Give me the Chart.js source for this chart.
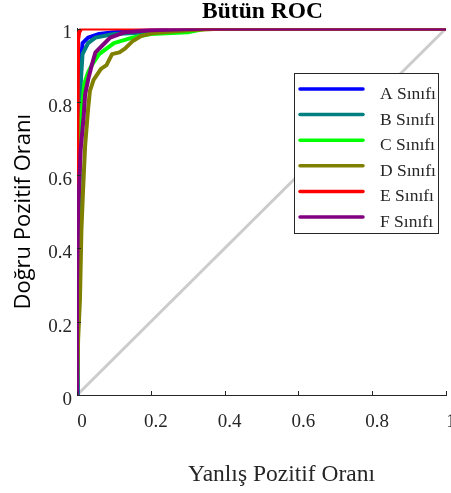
<!DOCTYPE html>
<html lang="tr">
<head>
    <meta charset="UTF-8">
    <title>Bütün ROC</title>
    <script src="https://cdn.jsdelivr.net/npm/chart.js"></script>
    <style>
        body {
            margin: 0;
            background-color: white;
        }
        .chart-container {
            position: relative;
            width: 451px;
            height: 493px;
        }
    </style>
</head>
<body>
    <div class="chart-container">
        <canvas id="rocChart" width="451" height="493"></canvas>
    </div>
    <script>
        // ROC eğrileri (yanlış pozitif oranı, doğru pozitif oranı)
        const classNames = ['A Sınıfı', 'B Sınıfı', 'C Sınıfı', 'D Sınıfı', 'E Sınıfı', 'F Sınıfı'];
        const classColors = ['#0000FF', '#008080', '#00FF00', '#808000', '#FF0000', '#800080'];

        const fprA = [0, 0.002, 0.005, 0.01, 0.015, 0.03, 0.06, 0.1, 0.2, 0.3, 1];
        const tprA = [0, 0.3, 0.6, 0.9, 0.96, 0.975, 0.985, 0.99, 0.995, 1, 1];

        const fprB = [0, 0.002, 0.005, 0.01, 0.015, 0.03, 0.05, 0.1, 0.2, 0.29, 0.31, 1];
        const tprB = [0, 0.3, 0.5, 0.85, 0.93, 0.96, 0.975, 0.985, 0.99, 0.995, 1, 1];

        const fprC = [0, 0.003, 0.006, 0.01, 0.02, 0.03, 0.04, 0.06, 0.08, 0.1, 0.15, 0.2, 0.3, 0.35, 1];
        const tprC = [0, 0.3, 0.55, 0.75, 0.85, 0.88, 0.9, 0.93, 0.945, 0.96, 0.975, 0.985, 0.99, 1, 1];

        const fprD = [0, 0.003, 0.008, 0.012, 0.016, 0.022, 0.03, 0.035, 0.045, 0.065, 0.08, 0.095, 0.115, 0.13, 0.15, 0.175, 0.21, 0.3, 0.4, 1];
        const tprD = [0, 0.15, 0.26, 0.45, 0.55, 0.68, 0.78, 0.83, 0.86, 0.89, 0.9, 0.93, 0.935, 0.945, 0.965, 0.98, 0.988, 0.995, 1, 1];

        const fprE = [0, 0, 0.003, 0.006, 0.012, 1];
        const tprE = [0, 0.55, 0.97, 0.99, 1, 1];

        const fprF = [0, 0, 0.003, 0.01, 0.018, 0.022, 0.03, 0.04, 0.05, 0.07, 0.09, 0.13, 0.2, 0.35, 1];
        const tprF = [0, 0.3, 0.5, 0.67, 0.76, 0.82, 0.86, 0.9, 0.935, 0.955, 0.975, 0.99, 0.995, 1, 1];

        const fprRandom = [0, 1];
        const tprRandom = [0, 1];

        const xTicks = [0, 0.2, 0.4, 0.6, 0.8, 1];
        const yTicks = [0, 0.2, 0.4, 0.6, 0.8, 1];

        const curves = [[fprA, tprA], [fprB, tprB], [fprC, tprC], [fprD, tprD], [fprE, tprE], [fprF, tprF]];

        function toPoints(xs, ys) {
            return xs.map((x, i) => ({ x: x, y: ys[i] }));
        }

        const axisColor = '#262626';
        const serif = "'Liberation Serif', 'Times New Roman', serif";

        // son sınıf en üstte çizilsin
        const datasets = curves.map((c, i) => ({
            label: classNames[i],
            data: toPoints(c[0], c[1]),
            borderColor: classColors[i],
            backgroundColor: classColors[i],
            borderWidth: 4,
            order: curves.length - 1 - i
        }));
        datasets.push({
            label: 'rastgele',
            data: toPoints(fprRandom, tprRandom),
            borderColor: '#CCCCCC',
            borderWidth: 3,
            order: 10
        });

        // başlık, içe dönük tikler, x ekseni başlığı ve lejant kutusu
        const rocDecor = {
            id: 'rocDecor',
            afterDraw(chart) {
                const ctx = chart.ctx;
                const xs = chart.scales.x;
                const ys = chart.scales.y;
                const area = chart.chartArea;
                const midX = (area.left + area.right) / 2;
                ctx.save();
                ctx.strokeStyle = axisColor;
                ctx.lineWidth = 1;
                ctx.beginPath();
                xTicks.forEach(v => {
                    const px = Math.round(xs.getPixelForValue(v)) + 0.5;
                    ctx.moveTo(px, area.bottom);
                    ctx.lineTo(px, area.bottom - 4);
                });
                yTicks.forEach(v => {
                    const py = Math.round(ys.getPixelForValue(v)) + 0.5;
                    ctx.moveTo(area.left, py);
                    ctx.lineTo(area.left + 4, py);
                });
                ctx.stroke();

                ctx.textAlign = 'center';
                ctx.textBaseline = 'alphabetic';
                ctx.fillStyle = '#000000';
                ctx.font = 'bold 23.5px ' + serif;
                ctx.fillText('Bütün ROC', midX + 1, 17.5);

                ctx.fillStyle = axisColor;
                ctx.font = '23.5px ' + serif;
                ctx.fillText('Yanlış Pozitif Oranı', midX + 20, 481);

                // lejant
                const box = { left: 294, top: 73, width: 144, height: 160 };
                ctx.fillStyle = 'white';
                ctx.fillRect(box.left, box.top, box.width, box.height);
                ctx.strokeStyle = axisColor;
                ctx.strokeRect(box.left + 0.5, box.top + 0.5, box.width, box.height);
                ctx.font = '17.5px ' + serif;
                ctx.textAlign = 'left';
                ctx.lineCap = 'round';
                classNames.forEach((name, i) => {
                    const y = 89 + i * 25.6;
                    ctx.strokeStyle = classColors[i];
                    ctx.lineWidth = 3.5;
                    ctx.beginPath();
                    ctx.moveTo(300, y);
                    ctx.lineTo(363, y);
                    ctx.stroke();
                    ctx.fillStyle = axisColor;
                    ctx.fillText(name, 380, y + 10);
                });
                ctx.restore();
            }
        };

        new Chart(document.getElementById('rocChart'), {
            type: 'scatter',
            data: { datasets: datasets },
            options: {
                responsive: false,
                animation: false,
                showLine: true,
                elements: {
                    point: { radius: 0 },
                    line: { tension: 0, borderJoinStyle: 'round', borderCapStyle: 'round' }
                },
                layout: { padding: { top: 28.5, right: 5, bottom: 0, left: 0 } },
                plugins: {
                    legend: { display: false },
                    tooltip: { enabled: false },
                    title: { display: false }
                },
                scales: {
                    x: {
                        type: 'linear',
                        position: 'bottom',
                        min: 0,
                        max: 1,
                        afterBuildTicks(scale) {
                            scale.ticks = xTicks.map(v => ({ value: v }));
                        },
                        afterFit(scale) {
                            scale.height = 98;
                            scale.paddingLeft = 0;
                            scale.paddingRight = 0;
                        },
                        grid: { display: false, drawTicks: false },
                        border: { display: true, color: axisColor, width: 1 },
                        ticks: {
                            color: axisColor,
                            font: { family: serif, size: 19 },
                            padding: 16,
                            labelOffset: 5,
                            maxRotation: 0,
                            callback: v => String(v)
                        }
                    },
                    y: {
                        type: 'linear',
                        position: 'left',
                        min: 0,
                        max: 1,
                        afterBuildTicks(scale) {
                            scale.ticks = yTicks.map(v => ({ value: v }));
                        },
                        afterFit(scale) {
                            scale.width = 77;
                            scale.paddingTop = 0;
                            scale.paddingBottom = 0;
                        },
                        grid: { display: false, drawTicks: false },
                        border: { display: true, color: axisColor, width: 1 },
                        ticks: {
                            color: axisColor,
                            font: { family: serif, size: 19 },
                            padding: 5,
                            labelOffset: 5,
                            callback: v => String(v)
                        },
                        title: {
                            display: true,
                            text: 'Doğru Pozitif Oranı',
                            color: '#000000',
                            font: { family: "'Open Sans', sans-serif", size: 22, lineHeight: 1.2 },
                            padding: { top: 11, bottom: 0 }
                        }
                    }
                }
            },
            plugins: [rocDecor]
        });
    </script>
</body>
</html>
